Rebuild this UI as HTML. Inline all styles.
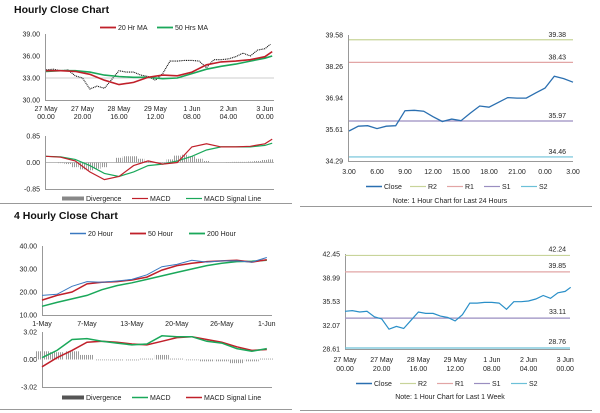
<!DOCTYPE html>
<html><head><meta charset="utf-8"><style>
html,body{margin:0;padding:0;background:#fff}
svg{display:block;font-family:"Liberation Sans",Arial,sans-serif}
.t{font-size:7px;fill:#222}
.ti{font-size:10.5px;font-weight:bold;fill:#111}
</style></head><body>
<svg id="s" width="600" height="413" viewBox="0 0 600 413">
<defs>
<pattern id="stripes" width="2" height="4" patternUnits="userSpaceOnUse"><rect x="0" y="0" width="1" height="4" fill="#9a9a9a"/></pattern>
</defs>
<text class="ti" x="14" y="13">Hourly Close Chart</text>
<text class="ti" x="14" y="219">4 Hourly Close Chart</text>
<line x1="0" y1="203.5" x2="292" y2="203.5" stroke="#999"/>
<line x1="300" y1="206.5" x2="592" y2="206.5" stroke="#999"/>
<line x1="0" y1="409.5" x2="292" y2="409.5" stroke="#999"/>
<line x1="300" y1="410.5" x2="592" y2="410.5" stroke="#999"/>
<text class="t" x="450" y="203" text-anchor="middle" font-size="6">Note: 1 Hour Chart for Last 24 Hours</text>
<text class="t" x="450" y="399" text-anchor="middle" font-size="6">Note: 1 Hour Chart for Last 1 Week</text>
</svg>
<script>
// ---- data ----
const hHours=[0,4,8,12,16,20,24,28,32,36,40,44,48,52,56,60,64,68,72,76,80,84,88,92,96,100,104,108,112,116,120,123];
const hClose=[34.1,34.2,34.0,34.1,33.3,33.0,31.5,31.9,31.6,32.8,34.0,33.8,33.8,33.4,33.2,32.7,33.6,35.3,35.3,35.4,35.4,35.3,34.4,35.5,35.5,35.6,35.9,36.4,36.0,36.8,37.0,37.6];
const hDiv=[0,0,-0.02,-0.05,-0.15,-0.22,-0.25,-0.2,-0.15,0,0.15,0.2,0.2,0.12,0.05,0,-0.02,0.1,0.22,0.25,0.2,0.12,0.05,0,0,0.01,0.02,0.02,0.03,0.05,0.08,0.1];
const maHours=[0,8,16,24,32,40,48,56,64,72,80,88,96,104,112,120,124];
const ma20=[34.0,34.0,33.9,33.5,32.7,32.1,32.4,33.1,33.4,33.3,33.8,34.8,35.2,35.3,35.5,35.9,36.6];
const ma50=[33.9,34.0,34.0,33.8,33.4,33.2,33.1,33.1,32.9,33.0,33.6,34.2,34.6,34.9,35.3,35.7,36.0];
const hMacd=[0.2,0.17,0.05,-0.3,-0.55,-0.45,-0.1,0.05,-0.05,0.0,0.5,0.6,0.5,0.5,0.52,0.6,0.75];
const hSignal=[0.2,0.18,0.1,-0.1,-0.35,-0.45,-0.3,-0.1,-0.05,0.05,0.2,0.4,0.5,0.5,0.5,0.55,0.62];
const hTickLabels=[["27 May","00.00"],["27 May","20.00"],["28 May","16.00"],["29 May","12.00"],["1 Jun","08.00"],["2 Jun","04.00"],["3 Jun","00.00"]];
const hTickHours=[0,20,40,60,80,100,120];
const dClose=[35.55,35.75,35.77,35.65,35.75,35.77,36.40,36.42,36.38,36.15,35.95,36.05,35.98,36.3,36.6,36.55,36.75,36.95,36.93,36.93,37.15,37.35,37.85,37.75,37.6];
const dTicks=["3.00","6.00","9.00","12.00","15.00","18.00","21.00","0.00","3.00"];
const dLevels=[39.38,38.43,35.97,34.46];
const wLevels=[42.24,39.85,33.11,28.76];
const levelNames=["R2","R1","S1","S2"];
const levelColors=["#c8d49a","#e2a5a5","#9a8ec0","#6cc0d8"];
const fIdx=[0,1,2,3,4,5,6,7,8,9,10,11,12,13,14,15];
const f20=[18.5,19.0,22.5,24.5,24.2,24.8,25.5,27.5,31.0,32.0,33.8,33.0,33.5,33.5,33.0,35.0];
const f50=[16.5,18.5,20.0,23.5,24.2,24.5,25.2,26.5,29.5,31.5,32.5,33.2,33.5,33.8,33.0,34.0];
const f200=[13.8,15.5,17.0,18.5,21.0,22.8,24.0,25.5,27.0,28.5,30.0,31.5,32.5,33.2,33.4,33.8];
const fMacd=[0.2,1.0,2.2,2.3,2.0,1.8,1.6,1.7,2.6,2.5,2.5,2.0,1.8,1.2,0.9,1.2];
const fSignal=[-0.8,0.2,1.0,1.9,2.0,1.9,1.7,1.6,2.0,2.4,2.5,2.2,1.9,1.4,1.0,1.1];
const fDiv=[0.9,0.8,0.9,0.5,0.0,-0.1,-0.1,0.1,0.5,0.1,0,-0.2,-0.2,-0.4,-0.2,0.1];
const fTicks=["1-May","7-May","13-May","20-May","26-May","1-Jun"];
const fTickIdx=[0,3,6,9,12,15];

const S=document.getElementById('s');const NS='http://www.w3.org/2000/svg';
function mk(tag,at){const e=document.createElementNS(NS,tag);for(const k in at)e.setAttribute(k,at[k]);S.appendChild(e);return e;}
function lin(d0,d1,r0,r1){return v=>r0+(v-d0)/(d1-d0)*(r1-r0);}
function txt(x,y,s,anchor,name){const e=mk('text',{x:x,y:y,'class':'t','text-anchor':anchor});e.textContent=s;

return e;}
function poly(xs,ys,fx,fy,col,w,name,dash){const p=xs.map((x,i)=>fx(x).toFixed(1)+','+fy(ys[i]).toFixed(1)).join(' ');
const e=mk('polyline',{points:p,fill:'none',stroke:col,'stroke-width':w});if(dash)e.setAttribute('stroke-dasharray',dash);

return e;}
function axes(x0,x1,y0,y1,name){const a=mk('path',{d:`M${x0+.5},${y0}V${y1+.5}H${x1}`,stroke:'#999',fill:'none','stroke-width':1});

}
function legItem(x,y,col,label,w,name,thick){const l=mk('line',{x1:x,y1:y-2.5,x2:x+(thick?22:16),y2:y-2.5,stroke:col,'stroke-width':w});


txt(x+(thick?24:18),y,label,'start',name);}

// ===== Panel 1: hourly price =====
{const fx=lin(0,125,46,274),fy=lin(30,39,100,34);
[39,36,33,30].forEach(v=>{txt(40,fy(v)+2.5,v.toFixed(2),'end','p1-ytick');});
const g=mk('line',{x1:46,x2:274,y1:fy(33),y2:fy(33),stroke:'#ccc'});


axes(45,274,34,100,'p1-axes');
hTickHours.forEach((h,i)=>{txt(fx(h),111,hTickLabels[i][0],'middle','p1-xtick');txt(fx(h),119,hTickLabels[i][1],'middle','p1-xtick');});
poly(hHours,hClose,fx,fy,'#111',1.1,'p1-price-line','1,0.8');
poly(maHours,ma50,fx,fy,'#1aa85a',1.6,'p1-ma50-line');
poly(maHours,ma20,fx,fy,'#c0202a',1.6,'p1-ma20-line');
legItem(100,30,'#c0202a','20 Hr MA',1.8,'legend-20hr-ma');
legItem(157,30,'#1aa85a','50 Hrs MA',1.8,'legend-50hrs-ma');}
// ===== Panel 1 MACD =====
{const fx=lin(0,125,46,274),fy=lin(-0.85,0.85,189,136);
[0.85,0,-0.85].forEach(v=>{txt(40,fy(v)+2.5,v.toFixed(2),'end','p1m-ytick');});
axes(45,274,136,189,'p1m-axes');
const z=mk('line',{x1:46,x2:274,y1:fy(0),y2:fy(0),stroke:'#bbb'});


hHours.forEach((h,i)=>{const v=hDiv[i];const r=mk('rect',{x:fx(h)-3.5,y:Math.min(fy(v),fy(0)),width:7,height:Math.abs(fy(v)-fy(0)),fill:'url(#stripes)'});

});
poly(maHours,hSignal,fx,fy,'#1aa85a',1.2,'p1-signal-line');
poly(maHours,hMacd,fx,fy,'#c0202a',1.2,'p1-macd-line');
legItem(62,201,'#888','Divergence',4,'legend-divergence',true);
legItem(132,201,'#c0202a','MACD',1.2,'legend-macd');
legItem(186,201,'#1aa85a','MACD Signal Line',1.2,'legend-macd-signal');}

// ===== Panel 2: last 24h =====
{const fx=lin(0,24,349,573),fy=lin(34.29,39.58,161,35);
[39.58,38.26,36.94,35.61,34.29].forEach(v=>{txt(343,fy(v)+2.5,v.toFixed(2),'end','p2-ytick');});
axes(348,573,35,161,'p2-axes');
dLevels.forEach((v,i)=>{const l=mk('line',{x1:349,x2:573,y1:fy(v),y2:fy(v),stroke:levelColors[i],'stroke-width':1.2});


txt(566,fy(v)-3,v.toFixed(2),'end','p2-level-label');});
dTicks.forEach((s,i)=>txt(fx(i*3),174,s,'middle','p2-xtick'));
poly(dClose.map((v,i)=>i),dClose,fx,fy,'#2a6fb0',1.3,'p2-close-line');
legItem(366,189,'#2a6fb0','Close',1.5,'p2-legend-close');
levelNames.forEach((n,i)=>legItem(410+i*37,189,levelColors[i],n,1.2,'p2-legend-'+n.toLowerCase()));}

// ===== Panel 3: 4-hourly =====
{const fx=lin(0,15.35,42,272),fy=lin(10,40,315,246);
[40,30,20,10].forEach(v=>{txt(37,fy(v)+2.5,v.toFixed(2),'end','p3-ytick');});
axes(42,272,246,315,'p3-axes');
fTicks.forEach((s,i)=>txt(fx(fTickIdx[i]),326,s,'middle','p3-xtick'));
poly(fIdx,f200,fx,fy,'#1aa85a',1.5,'p3-200hour-line');
poly(fIdx,f50,fx,fy,'#c0202a',1.5,'p3-50hour-line');
poly(fIdx,f20,fx,fy,'#3a78c0',1,'p3-20hour-line');
legItem(70,236,'#3a78c0','20 Hour',1.5,'legend-20-hour');
legItem(130,236,'#c0202a','50 Hour',1.8,'legend-50-hour');
legItem(189,236,'#1aa85a','200 Hour',1.8,'legend-200-hour');}
// ===== Panel 3 MACD =====
{const fx=lin(0,15.35,42,272),fy=lin(-3.02,3.02,387,332);
[3.02,0,-3.02].forEach(v=>{txt(37,fy(v)+2.5,v.toFixed(2),'end','p3m-ytick');});
axes(42,272,332,387,'p3m-axes');
fIdx.forEach((k,i)=>{const v=fDiv[i];const r=mk('rect',{x:fx(k)-7,y:Math.min(fy(v),fy(0)),width:14,height:Math.max(0.8,Math.abs(fy(v)-fy(0))),fill:'url(#stripes)'});

});
poly(fIdx,fSignal,fx,fy,'#c0202a',1.5,'p3-signal-line');
poly(fIdx,fMacd,fx,fy,'#1aa85a',1.5,'p3-macd-line');
legItem(62,400,'#555','Divergence',4,'p3-legend-divergence',true);
legItem(132,400,'#1aa85a','MACD',1.5,'p3-legend-macd');
legItem(186,400,'#c0202a','MACD Signal Line',1.5,'p3-legend-macd-signal');}

// ===== Panel 4: last week =====
{const fx=lin(0,20,345,381.7),fy=lin(28.61,42.45,349,254);
[42.45,38.99,35.53,32.07,28.61].forEach(v=>{txt(340,fy(v)+2.5,v.toFixed(2),'end','p4-ytick');});
axes(345,570,254,349,'p4-axes');
wLevels.forEach((v,i)=>{const l=mk('line',{x1:345,x2:570,y1:fy(v),y2:fy(v),stroke:levelColors[i],'stroke-width':1.2});


txt(566,fy(v)-4,v.toFixed(2),'end','p4-level-label');});
hTickHours.forEach((h,i)=>{txt(fx(h),362,hTickLabels[i][0],'middle','p4-xtick');txt(fx(h),371,hTickLabels[i][1],'middle','p4-xtick');});
poly(hHours,hClose,fx,fy,'#2a8fc8',1.2,'p4-close-line');
legItem(356,386,'#2a6fb0','Close',1.5,'p4-legend-close');
levelNames.forEach((n,i)=>legItem(400+i*37,386,levelColors[i],n,1.2,'p4-legend-'+n.toLowerCase()));}
</script>
</body></html>
